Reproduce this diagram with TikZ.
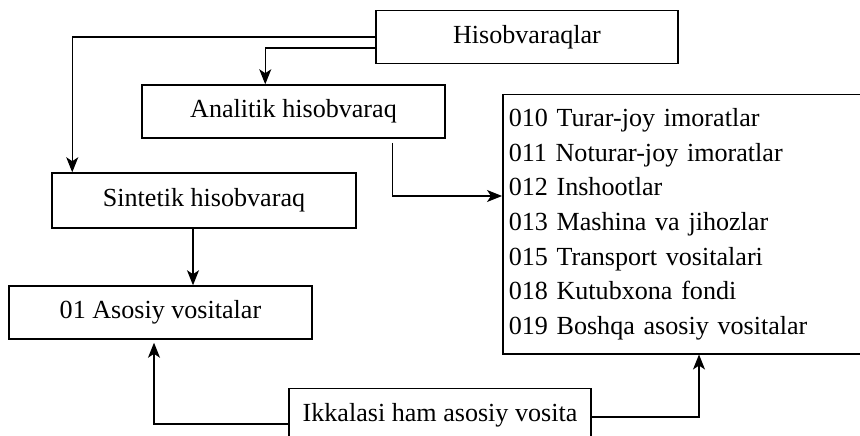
\documentclass[tikz,border=0pt]{standalone}
\usepackage{fontspec}
\setmainfont{Liberation Serif}
\usetikzlibrary{arrows.meta,calc}

\tikzset{
  box/.style={draw, line width=1.5pt, minimum height=53pt, inner sep=0pt},
  arr/.style={line width=1.1pt, -{Stealth[length=15pt,width=12pt,inset=4pt]}}
}

\begin{document}
\begin{tikzpicture}[x=1pt,y=-1pt,font=\fontsize{26.1}{34.7}\selectfont]
\useasboundingbox (0,0) rectangle (860,436);
\clip (0,0) rectangle (860,436);
\node[box, minimum width=302pt] (hisob) at (527,37) {Hisobvaraqlar};
\node[box, minimum width=303pt] (analitik) at (293.5,111.5) {Analitik hisobvaraq};
\node[box, minimum width=304pt, minimum height=55pt] (sintetik) at (204,200.5) {Sintetik hisobvaraq};
\node[box, minimum width=303pt] (asosiy) at (160.5,312.5) {01 Asosiy vositalar};
\node[box, minimum width=302pt] (ikki) at (440,415) {Ikkalasi ham asosiy vosita};
\node[box, anchor=north west, minimum height=259pt, text width=366pt, inner xsep=6pt, align=left] (ruyxat) at (502,94)
  {010 Turar-joy imoratlar\\
   011 Noturar-joy imoratlar\\
   012 Inshootlar\\
   013 Mashina va jihozlar\\
   015 Transport vositalari\\
   018 Kutubxona fondi\\
   019 Boshqa asosiy vositalar};
\draw[arr] (hisob.west) -| ($(sintetik.north west)+(21,0)$);
\draw[arr] ($(hisob.west)+(0,11)$) -| ($(analitik.north west)+(124,0)$);
\draw[arr] ($(analitik.south east)+(-53,4)$) |- ($(ruyxat.north west)+(0,102)$);
\coordinate (s) at ($(sintetik.south)+(-11,0)$);
\draw[arr] (s) -- (s |- asosiy.north);
\draw[arr] ($(ikki.west)+(0,9)$) -| ($(asosiy.south)+(-6.5,3)$);
\draw[arr] ($(ikki.east)+(0,2)$) -| ($(ruyxat.south west)+(197,0)$);
\end{tikzpicture}
\end{document}
